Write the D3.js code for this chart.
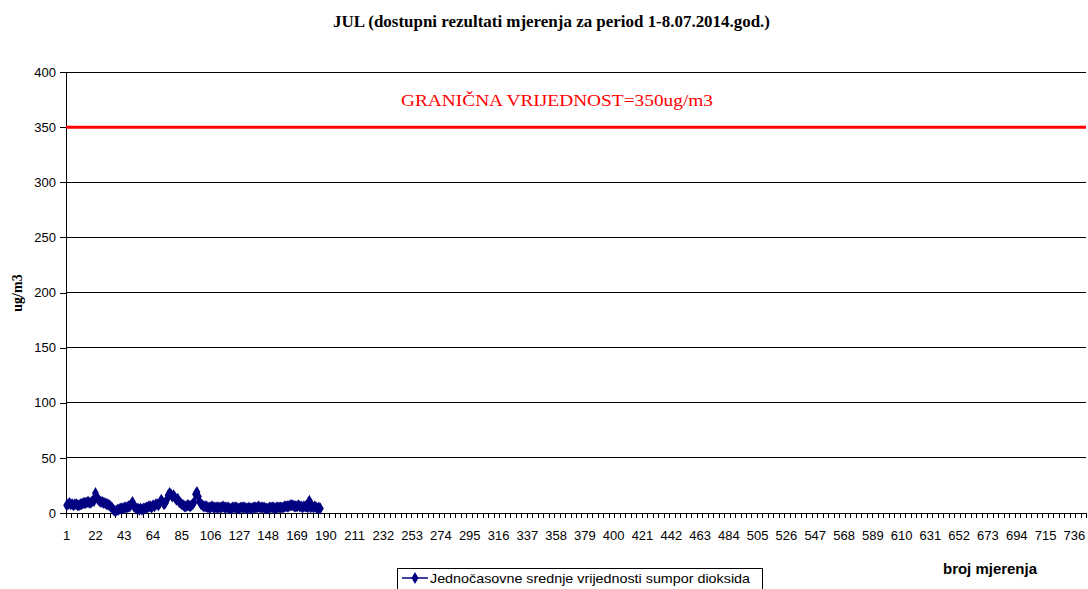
<!DOCTYPE html>
<html>
<head>
<meta charset="utf-8">
<script src="https://cdn.jsdelivr.net/npm/d3@7/dist/d3.min.js"></script>
<style>
  body { margin: 0; background: #fff; }
  svg { display: block; }
  .ytick text, .xtick text { font-family: Arial, "Liberation Sans", sans-serif; font-size: 13px; fill: #000; }
</style>
</head>
<body>
<div id="chart"></div>
<script>
// Data: hourly SO2 averages, July 2014 (measurements 1..186 available)
var nCategories = 744;
var values = [
  7,8,9,8,8,7,8,8,7,7,8,8,9,9,9,10,10,9,10,11,11,
  18,
  14,12,11,10,10,9,9,8,
  8,7,6,5,3,2,2,3,3,4,
  4,4,5,5,5,6,6,8,10,6,
  5,4,4,3,4,3,4,4,5,5,
  6,6,5,7,6,8,8,7,9,12,
  10,8,9,12,16,18,17,15,16,14,
  12,13,10,9,8,7,6,6,7,7,
  6,7,8,10,17,19,15,10,8,7,
  6,6,6,5,5,5,6,5,5,5,
  5,5,5,5,6,5,5,5,5,4,
  4,5,5,5,5,4,4,5,5,5,
  5,4,4,5,4,4,5,5,5,5,
  6,5,5,5,5,4,4,4,5,5,
  5,5,4,5,5,5,5,5,5,6,
  6,6,6,7,7,7,6,6,6,7,
  6,6,5,6,6,6,5,11,5,6,
  5,6,5,4,5,4
];
var yTicks = [0, 50, 100, 150, 200, 250, 300, 350, 400];
var limitValue = 350;
var titleText = "JUL (dostupni rezultati mjerenja za period 1-8.07.2014.god.)";
var limitText = "GRANIČNA VRIJEDNOST=350ug/m3";
var seriesName = "Jednočasovne srednje vrijednosti sumpor dioksida";

var W = 1088, H = 589;
var margin = {top: 72, right: 2, bottom: 76, left: 66};
var width = W - margin.left - margin.right;
var height = H - margin.top - margin.bottom;

var svg = d3.select("#chart").append("svg")
    .attr("width", W)
    .attr("height", H);

var g = svg.append("g")
    .attr("transform", "translate(" + margin.left + "," + margin.top + ")");

// Scales
var x = d3.scaleLinear().domain([0.5, nCategories + 0.5]).range([0, width]);
var y = d3.scaleLinear().domain([0, 400]).range([height, 0]);

// Gridlines
g.selectAll(".grid")
    .data(yTicks.filter(function(d) { return d > 0; }))
    .enter().append("line")
    .attr("class", "grid")
    .attr("x1", 0).attr("x2", width)
    .attr("y1", function(d) { return y(d); })
    .attr("y2", function(d) { return y(d); })
    .attr("stroke", "#000")
    .attr("stroke-width", 1)
    .attr("shape-rendering", "crispEdges");

// Y axis
var yAxis = g.append("g").attr("class", "ytick")
    .call(d3.axisLeft(y).tickValues(yTicks).tickSize(6).tickPadding(4).tickFormat(d3.format("d")));
yAxis.select(".domain").attr("stroke", "#000").attr("shape-rendering", "crispEdges");
yAxis.selectAll("line").attr("shape-rendering", "crispEdges");

// X axis: tick marks every 4 categories, labels every 21
var tickBounds = d3.range(0.5, nCategories + 1, 4);
var xAxisG = g.append("g").attr("class", "xtick")
    .attr("transform", "translate(0," + height + ")");
xAxisG.call(d3.axisBottom(x).tickValues(tickBounds).tickSize(5).tickFormat(""));
xAxisG.select(".domain").attr("stroke", "#000").attr("shape-rendering", "crispEdges");
xAxisG.selectAll("line").attr("shape-rendering", "crispEdges");

var labelCats = d3.range(1, nCategories + 1, 21);
xAxisG.selectAll(".xlab")
    .data(labelCats)
    .enter().append("text")
    .attr("class", "xlab")
    .attr("x", function(d) { return x(d); })
    .attr("y", 27)
    .attr("text-anchor", "middle")
    .text(function(d) { return d; });

// Limit line
g.append("line")
    .attr("x1", 0).attr("x2", width)
    .attr("y1", y(limitValue)).attr("y2", y(limitValue))
    .attr("stroke", "#ff0000")
    .attr("stroke-width", 3);

g.append("text")
    .attr("x", 401 - margin.left)
    .attr("y", y(limitValue) - 21)
    .attr("font-family", "'Liberation Serif', 'Times New Roman', serif")
    .attr("font-size", "17px")
    .attr("textLength", 312)
    .attr("lengthAdjust", "spacingAndGlyphs")
    .attr("fill", "#ff0000")
    .text(limitText);

// Series line + diamond markers
var line = d3.line()
    .x(function(d, i) { return x(i + 1); })
    .y(function(d) { return y(d); });

g.append("path")
    .datum(values)
    .attr("fill", "none")
    .attr("stroke", "#000080")
    .attr("stroke-width", 1.5)
    .attr("d", line);

var diamond = d3.symbol().type(d3.symbolDiamond).size(42);
g.selectAll(".pt")
    .data(values)
    .enter().append("path")
    .attr("class", "pt")
    .attr("transform", function(d, i) { return "translate(" + x(i + 1) + "," + y(d) + ")"; })
    .attr("d", diamond)
    .attr("fill", "#000080");

// Title
svg.append("text")
    .attr("x", 333)
    .attr("y", 27)
    .attr("font-family", "'Liberation Serif', 'Times New Roman', serif")
    .attr("font-weight", "bold")
    .attr("font-size", "16px")
    .attr("textLength", 437)
    .attr("lengthAdjust", "spacingAndGlyphs")
    .text(titleText);

// Axis titles
svg.append("text")
    .attr("transform", "translate(22," + 293 + ") rotate(-90)")
    .attr("text-anchor", "middle")
    .attr("font-family", "'Liberation Serif', 'Times New Roman', serif")
    .attr("font-weight", "bold")
    .attr("font-size", "14px")
    .text("ug/m3");

svg.append("text")
    .attr("x", 943)
    .attr("y", 574)
    .attr("font-family", "Arial, 'Liberation Sans', sans-serif")
    .attr("font-weight", "bold")
    .attr("font-size", "14px")
    .attr("textLength", 94)
    .attr("lengthAdjust", "spacingAndGlyphs")
    .text("broj mjerenja");

// Legend
var lg = svg.append("g").attr("transform", "translate(397,568)");
lg.append("rect")
    .attr("x", 0.5).attr("y", 0.5)
    .attr("width", 365).attr("height", 24)
    .attr("fill", "#fff")
    .attr("stroke", "#000");
lg.append("line")
    .attr("x1", 5).attr("x2", 31)
    .attr("y1", 10).attr("y2", 10)
    .attr("stroke", "#000080").attr("stroke-width", 1.5);
lg.append("path")
    .attr("transform", "translate(18,10)")
    .attr("d", diamond)
    .attr("fill", "#000080");
lg.append("text")
    .attr("x", 33).attr("y", 15)
    .attr("font-family", "Arial, 'Liberation Sans', sans-serif")
    .attr("font-size", "13px")
    .attr("textLength", 320)
    .attr("lengthAdjust", "spacingAndGlyphs")
    .text(seriesName);
</script>
</body>
</html>
